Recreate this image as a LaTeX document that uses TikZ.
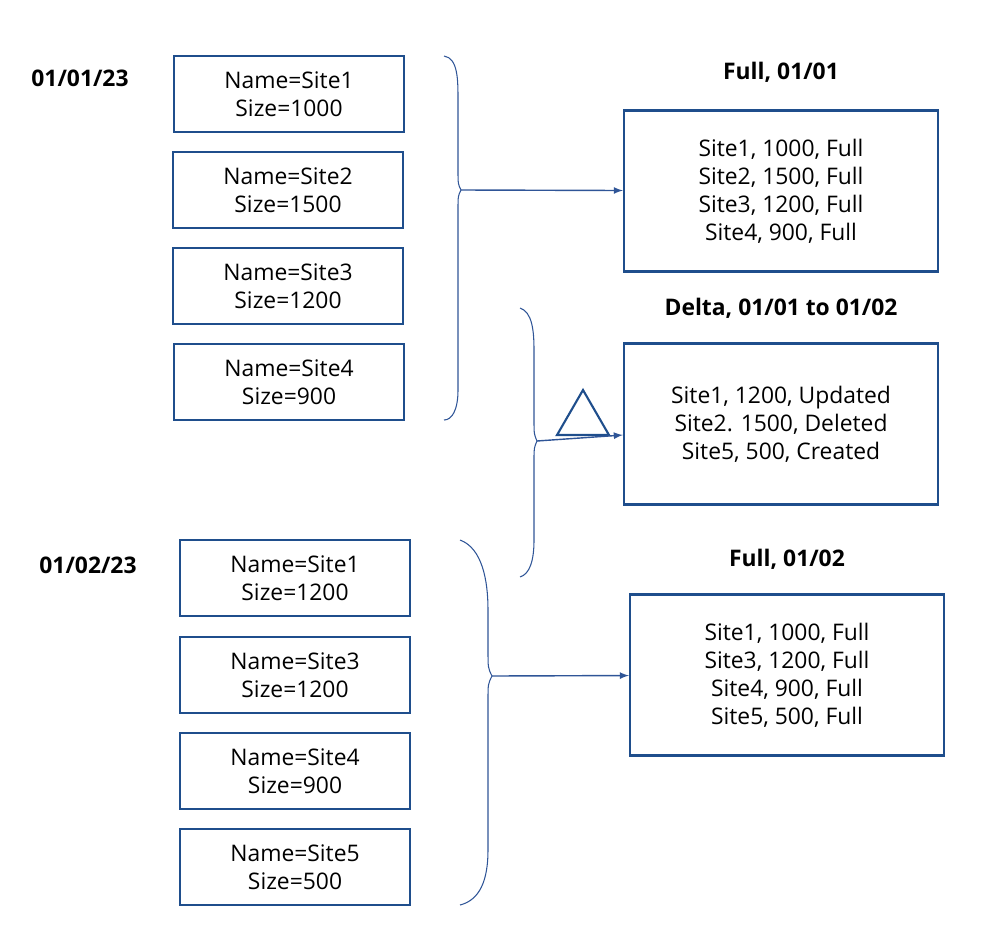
\documentclass[tikz,border=0pt]{standalone}
\usepackage{fontspec}
\setmainfont{Open Sans}
\usetikzlibrary{positioning,shapes.geometric}
\definecolor{boxblue}{HTML}{1F4E8C}
\definecolor{arrblue}{HTML}{2F5597}
\begin{document}
\begin{tikzpicture}[x=0.2mm,y=-0.2mm,>=latex,
  site/.style = {draw=boxblue, line width=1.2pt, minimum width=46mm, minimum height=15.2mm, align=center, font=\fontsize{13}{16}\selectfont, inner sep=0pt},
  list/.style = {draw=boxblue, line width=1.2pt, minimum width=62.8mm, minimum height=32.2mm, align=center, font=\fontsize{13}{16}\selectfont, inner sep=0pt},
  title/.style = {font=\bfseries\fontsize{13}{16}\selectfont},
  brace/.style = {draw=arrblue, line width=0.6pt},
  link/.style = {->, draw=arrblue, line width=0.8pt},]
\useasboundingbox (0,0) rectangle (999,938);
% dates
\node (d1) at (80,78)[title] {01/01/23};
\node (d2) at (88,565)[title] {01/02/23};
% first day
\node (a1) at (289,94)[site] {Name=Site1\\Size=1000};
\node (a2) at (288,190)[site] {Name=Site2\\Size=1500};
\node (a3) at (288,286)[site] {Name=Site3\\Size=1200};
\node (a4) at (289,382)[site] {Name=Site4\\Size=900};
% second day
\node (b1) at (295,578)[site] {Name=Site1\\Size=1200};
\node (b2) at (295,675)[site] {Name=Site3\\Size=1200};
\node (b3) at (295,771)[site] {Name=Site4\\Size=900};
\node (b4) at (295,867)[site] {Name=Site5\\Size=500};
% results
\node (f1) at (781,191)[list] {Site1, 1000, Full\\Site2, 1500, Full\\Site3, 1200, Full\\Site4, 900, Full};
\node (dl) at (781,424)[list] {Site1, 1200, Updated\\Site2. 1500, Deleted\\Site5, 500, Created};
\node (f2) at (787,675)[list] {Site1, 1000, Full\\Site3, 1200, Full\\Site4, 900, Full\\Site5, 500, Full};
\node (t1) [title, above=12pt of f1] {Full, 01/01};
\node (t2) [title, above=10pt of dl] {Delta, 01/01 to 01/02};
\node (t3) [title, above=10pt of f2] {Full, 01/02};
\node (tri) at (583,420)[draw=boxblue, line width=1.2pt, regular polygon, regular polygon sides=3, minimum size=12mm, inner sep=0pt] {};
% braces
\coordinate (k1) at (461,190);
\coordinate (k2) at (537,441);
\coordinate (k3) at (492,676);
\draw[brace] (444,56) .. controls (458,58) and (458,80) .. (458,100) -- (458,170) .. controls (458,184) .. (k1)
  .. controls (458,196) .. (458,210) -- (458,390) .. controls (458,410) and (452,420) .. (444,420);
\draw[brace] (520,308) .. controls (532,312) and (534,330) .. (534,350) -- (534,420) .. controls (534,434) .. (k2)
  .. controls (534,448) .. (534,460) -- (534,540) .. controls (534,560) and (530,574) .. (520,577);
\draw[brace] (460,540) .. controls (482,548) and (488,580) .. (488,610) -- (488,650) .. controls (488,668) .. (k3)
  .. controls (488,684) .. (488,700) -- (488,850) .. controls (488,880) and (480,900) .. (460,905);
\draw[link] (k1) -- (f1);
\draw[link] (k2) -- (dl);
\draw[link] (k3) -- (f2);
\end{tikzpicture}
\end{document}
